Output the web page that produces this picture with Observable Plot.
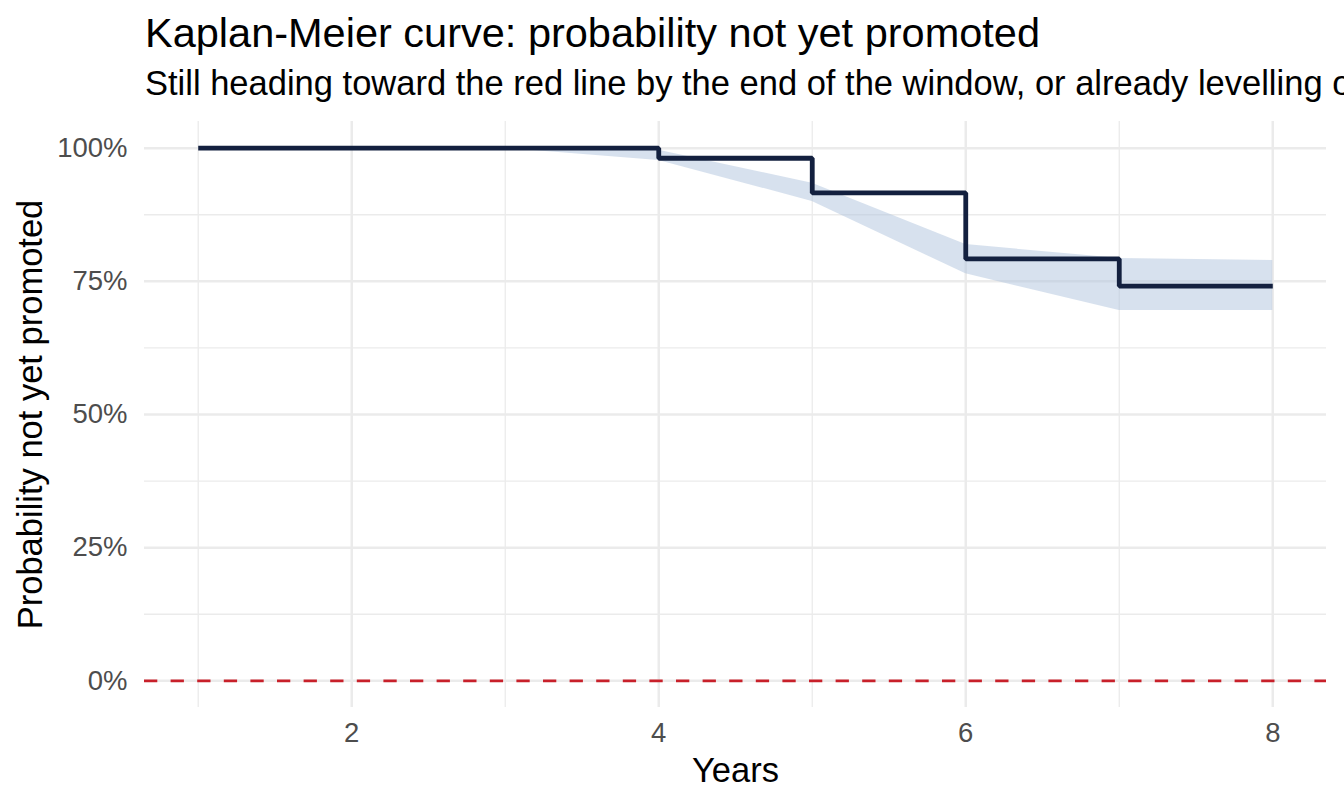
<!DOCTYPE html>
<html>
<head>
<meta charset="utf-8">
<script src="https://cdn.jsdelivr.net/npm/d3@7"></script>
<script src="https://cdn.jsdelivr.net/npm/@observablehq/plot@0.6"></script>
<style>
  html, body { margin: 0; padding: 0; background: #fff; overflow: hidden; }
  body { width: 1344px; height: 806px; position: relative; font-family: "Liberation Sans", Arial, Helvetica, sans-serif; }
  #header { position: relative; height: 108px; white-space: nowrap; overflow: hidden; }
  #title { position: absolute; left: 145px; top: 12px; font-size: 41.5px; line-height: 1; color: #000; }
  #subtitle { position: absolute; left: 145px; top: 66px; font-size: 34.5px; line-height: 1; color: #000; }
  #chart svg { display: block; }
</style>
</head>
<body>
<div id="header">
  <div id="title">Kaplan-Meier curve: probability not yet promoted</div>
  <div id="subtitle">Still heading toward the red line by the end of the window, or already levelling off?</div>
</div>
<div id="chart"></div>
<script>
// Kaplan-Meier estimate (percent not yet promoted) by year
const years = [1, 2, 3, 4, 5, 6, 7, 8];
const survival = [100, 100, 100, 98.1, 91.6, 79.2, 74.1, 74.1];
// Confidence band
const bandLower = [100, 100, 100, 97.7, 90.0, 76.4, 69.5, 69.5];
const bandUpper = [100, 100, 100, 99.6, 93.4, 81.9, 79.3, 78.9];
// Axis ticks
const xTicks = [2, 4, 6, 8];
const xMinor = [1, 3, 5, 7];
const yTicks = [0, 25, 50, 75, 100];
const yMinor = [12.5, 37.5, 62.5, 87.5];
const threshold = [0];

const km = years.map((t, i) => ({t, s: survival[i]}));
const band = years.map((t, i) => ({t, lo: bandLower[i], hi: bandUpper[i]}));

const grid = "#ebebeb";

const chart = Plot.plot({
  width: 1344,
  height: 698,
  marginTop: 13,
  marginBottom: 99,
  marginLeft: 144,
  marginRight: 18,
  style: {fontFamily: "'Liberation Sans', Arial, Helvetica, sans-serif", fontSize: "27.5px", background: "#fff", overflow: "visible"},
  x: {domain: [0.65, 8.35]},
  y: {domain: [-5, 105]},
  marks: [
    Plot.ruleX(xMinor, {stroke: grid, strokeWidth: 1.3}),
    Plot.ruleX(xTicks, {stroke: grid, strokeWidth: 2.5}),
    Plot.ruleY(yMinor, {stroke: grid, strokeWidth: 1.3}),
    Plot.ruleY(yTicks, {stroke: grid, strokeWidth: 2.5}),
    Plot.areaY(band, {x: "t", y1: "lo", y2: "hi", fill: "#b0c4de", fillOpacity: 0.5}),
    Plot.line(km, {x: "t", y: "s", curve: "step-after", stroke: "#13203f", strokeWidth: 4.8, strokeLinejoin: "miter", strokeLinecap: "butt"}),
    Plot.ruleY(threshold, {stroke: "#c8202a", strokeWidth: 2.6, strokeDasharray: "13.3,13.3"}),
    Plot.axisX(xTicks, {tickSize: 0, tickPadding: 15, color: "#4d4d4d", fontSize: 27.5, label: null, tickFormat: d => `${d}`}),
    Plot.axisY(yTicks, {tickSize: 0, tickPadding: 17, color: "#4d4d4d", fontSize: 27.5, label: null, tickFormat: d => `${d}%`}),
    Plot.text(["Years"], {frameAnchor: "bottom", textAnchor: "middle", lineAnchor: "middle", dy: 63, fontSize: 34.5, fill: "#000"}),
    Plot.text(["Probability not yet promoted"], {frameAnchor: "left", textAnchor: "middle", lineAnchor: "middle", rotate: -90, dx: -114, fontSize: 34.5, fill: "#000"})
  ]
});
document.getElementById("chart").appendChild(chart);
</script>
</body>
</html>
